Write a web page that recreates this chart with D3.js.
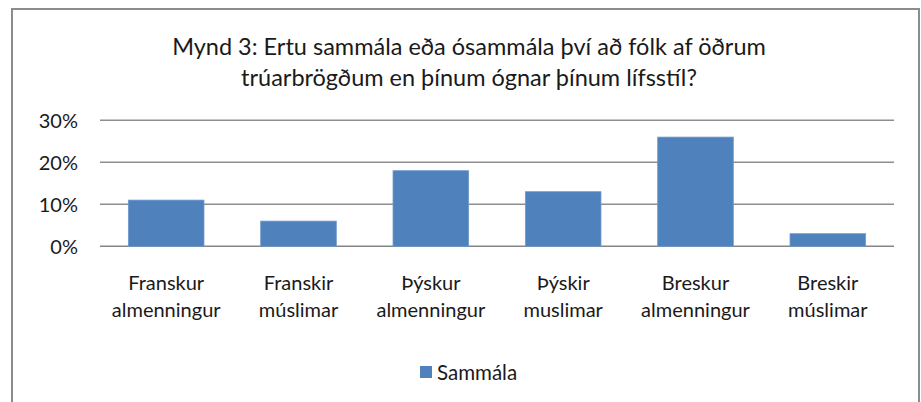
<!DOCTYPE html>
<html><head><meta charset="utf-8">
<script src="https://cdn.jsdelivr.net/npm/d3@7"></script>
<style>
html,body{margin:0;padding:0;background:#fff;overflow:hidden}
text{font-family:Lato,"Open Sans",sans-serif;fill:#1a1a1a}
</style></head>
<body>
<svg id="chart" width="921" height="402"></svg>
<script>
const categories = [["Franskur","almenningur"],["Franskir","múslimar"],["Þýskur","almenningur"],["Þýskir","muslimar"],["Breskur","almenningur"],["Breskir","múslimar"]];
const values = [11, 6, 18, 13, 26, 3];
const yTicks = [0, 10, 20, 30];
const titleLines = ["Mynd 3: Ertu sammála eða ósammála því að fólk af öðrum", "trúarbrögðum en þínum ógnar þínum lífsstíl?"];
const seriesName = "Sammála";

const svg = d3.select("#chart");
// frame
svg.append("rect").attr("x",12).attr("y",9).attr("width",907).attr("height",420)
  .attr("fill","#fff").attr("stroke","#8c8c8c").attr("stroke-width",2);

const x = d3.scaleBand().domain(d3.range(categories.length)).range([100,894]).paddingInner(0.4286).paddingOuter(0.2143);
const y = d3.scaleLinear().domain([0,30]).range([246.3,120.3]);

// gridlines
svg.append("g").selectAll("line").data(yTicks).join("line")
  .attr("x1",100).attr("x2",894).attr("y1",d=>y(d)).attr("y2",d=>y(d))
  .attr("stroke",d=>d===0?"#868686":"#8e8e8e").attr("stroke-width",1.5);

// y labels
svg.append("g").selectAll("text").data(yTicks).join("text")
  .attr("x",78).attr("y",d=>y(d)).attr("dy","0.36em").attr("text-anchor","end")
  .style("font-size","20px").text(d=>d+"%");

// bars
svg.append("g").selectAll("rect").data(values).join("rect")
  .attr("x",(d,i)=>x(i)).attr("width",x.bandwidth())
  .attr("y",d=>y(d)).attr("height",d=>y(0)-y(d))
  .attr("fill","#4f81bd").attr("stroke","#6e98cc").attr("stroke-width",0.8);

// x labels
const xl = svg.append("g").selectAll("text").data(categories).join("text")
  .attr("text-anchor","middle").style("font-size","20px")
  .attr("transform",(d,i)=>`translate(${x(i)+x.bandwidth()/2},0)`);
xl.selectAll("tspan").data(d=>d).join("tspan")
  .attr("x",0).attr("y",(d,j)=>290+j*27).text(d=>d);

// title
svg.append("g").selectAll("text").data(titleLines).join("text")
  .attr("x",469).attr("y",(d,i)=>55+i*31).attr("text-anchor","middle")
  .style("font-size","23.5px").text(d=>d);

// legend
svg.append("rect").attr("x",420).attr("y",366).attr("width",12).attr("height",12).attr("fill","#4f81bd");
svg.append("text").attr("x",437).attr("y",380).style("font-size","20.5px").text(seriesName);
</script>
</body></html>
